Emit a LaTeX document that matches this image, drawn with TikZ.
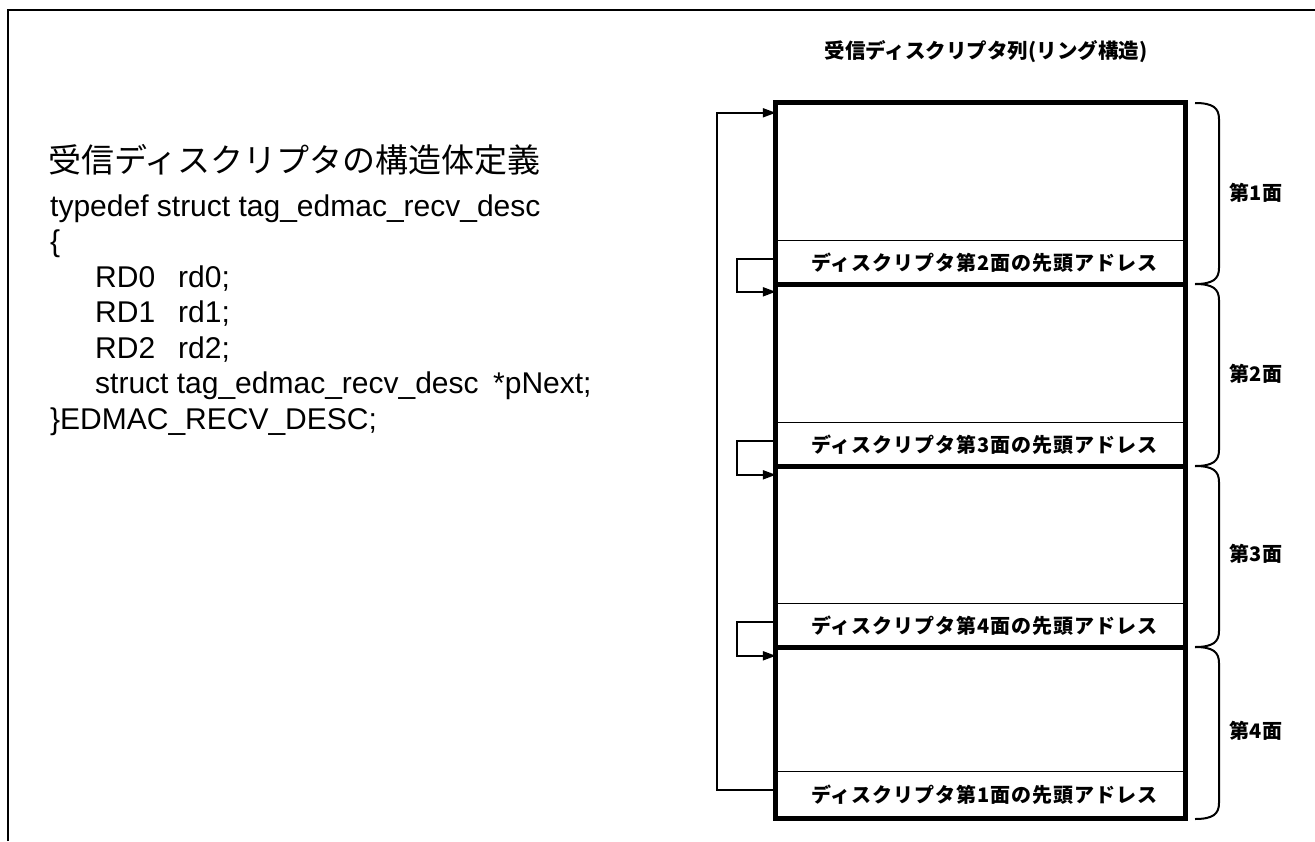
\documentclass[tikz,border=0pt]{standalone}
\usepackage{fontspec}
\setmainfont{Liberation Sans}
\newfontfamily\jp{Noto Sans CJK JP}
\newfontfamily\jpsp[LetterSpace=5]{Noto Sans CJK JP}
\usetikzlibrary{arrows.meta}
\begin{document}
\begin{tikzpicture}[x=1pt,y=-1pt,
  frame/.style={line width=2.8pt},
  boxline/.style={line width=5pt},
  thinline/.style={line width=1.3pt},
  link/.style={line width=2pt,-{Triangle[length=13pt,width=9pt]}},
  bracket/.style={line width=2pt},
  code/.style={anchor=base west,inner sep=0pt,font=\fontsize{30}{35}\selectfont},
  addr/.style={inner sep=0pt,minimum width=409pt,font=\jpsp\bfseries\fontsize{20}{22}\selectfont},
  body/.style={inner sep=0pt,minimum width=409pt},
  side/.style={inner sep=0pt,font=\jp\bfseries\fontsize{20}{24}\selectfont}
]
\useasboundingbox (0,0) rectangle (1315,841);
\draw[frame] (8,841) -- (8,10) -- (1315,10);

% left text
\node[anchor=west,inner sep=0pt,font=\jp\fontsize{33}{36}\selectfont] (title) at (48,160) {受信ディスクリプタの構造体定義};
\node[code] (c1) at (50,216) {typedef struct tag\_edmac\_recv\_desc};
\node[code] (c2) at (50,251.5) {\{};
\node[code] (c3) at (95,287) {\makebox[83pt][l]{RD0}rd0;};
\node[code] (c4) at (95,322.5) {\makebox[83pt][l]{RD1}rd1;};
\node[code] (c5) at (95,358) {\makebox[83pt][l]{RD2}rd2;};
\node[code] (c6) at (95,393.5) {\makebox[398pt][l]{struct tag\_edmac\_recv\_desc}*pNext;};
\node[code] (c7) at (50,429) {\}EDMAC\_RECV\_DESC;};

% ring title
\node[side,font=\jp\bfseries\fontsize{20.5}{24}\selectfont] (ring) at (986,52) {受信ディスクリプタ列(リング構造)};

% descriptor blocks
\node[body,minimum height=138pt] (body1) at (980.5,172) {};
\node[addr,minimum height=43pt] (addr1) at (980.5,262.5) {\hspace*{8pt}ディスクリプタ第2面の先頭アドレス};
\node[body,minimum height=139pt] (body2) at (980.5,353.5) {};
\node[addr,minimum height=43pt] (addr2) at (980.5,444.5) {\hspace*{8pt}ディスクリプタ第3面の先頭アドレス};
\node[body,minimum height=138pt] (body3) at (980.5,535) {};
\node[addr,minimum height=43pt] (addr3) at (980.5,625.5) {\hspace*{8pt}ディスクリプタ第4面の先頭アドレス};
\node[body,minimum height=125pt] (body4) at (980.5,709.5) {};
\node[addr,minimum height=46pt] (addr4) at (980.5,795) {\hspace*{8pt}ディスクリプタ第1面の先頭アドレス};

\foreach \i in {1,2,3,4}{
  \draw[thinline] (addr\i.north west) -- (addr\i.north east);
}
\foreach \i in {1,2,3}{
  \draw[boxline] (addr\i.south west) -- (addr\i.south east);
}
\draw[boxline] (body1.north west) rectangle (addr4.south east);

% links
\draw[link] ([yshift=3.5pt]addr1.west) -- ++(-39,0) |- ([yshift=-8pt]body2.north west);
\draw[link] ([yshift=3.5pt]addr2.west) -- ++(-39,0) |- ([yshift=-9pt]body3.north west);
\draw[link] ([yshift=3.5pt]addr3.west) -- ++(-39,0) |- ([yshift=-9pt]body4.north west);
\draw[link] ([yshift=5pt]addr4.west) -- ++(-59,0) |- ([yshift=-10pt]body1.north west);

% brackets
\foreach \T/\B in {103/284,284/466,466/647,647/819}{
  \draw[bracket] (1195,\T) .. controls (1213,\T) and (1219,\T+5) .. (1219,\T+16)
     -- (1219,\B-16) .. controls (1219,\B-5) and (1213,\B) .. (1195,\B);
}
\node[side] (side1) at (1256,193) {第1面};
\node[side] (side2) at (1256,374) {第2面};
\node[side] (side3) at (1256,554) {第3面};
\node[side] (side4) at (1256,731) {第4面};
\end{tikzpicture}
\end{document}
